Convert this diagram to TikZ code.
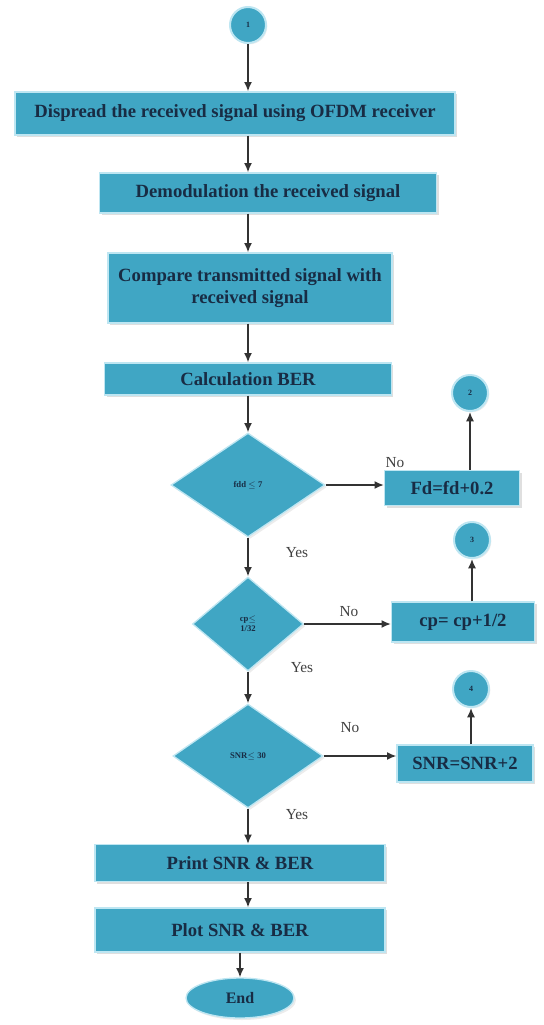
\documentclass[tikz,border=0pt]{standalone}
\usepackage{amsmath}
\usepackage{amssymb}
\usepackage{fontspec}
\setmainfont{Liberation Serif}
\usetikzlibrary{shapes.geometric,shadows,arrows.meta}

\definecolor{flowfill}{RGB}{64,166,196}
\definecolor{flowedge}{RGB}{190,230,242}
\definecolor{flowtext}{RGB}{24,44,68}

\tikzset{
	procbox/.style={rectangle, fill=flowfill, draw=flowedge, line width=1pt, text=flowtext, align=center, inner sep=0pt,
		font=\bfseries\fontsize{14}{17}\selectfont,
		drop shadow={shadow xshift=1.5pt, shadow yshift=-1.5pt, fill=black!25}},
	decbox/.style={diamond, fill=flowfill, draw=flowedge, line width=1pt, text=flowtext, align=center, inner sep=0pt,
		font=\bfseries\fontsize{6.5}{7.5}\selectfont,
		drop shadow={shadow xshift=1.5pt, shadow yshift=-1.5pt, fill=black!15}},
	connbox/.style={circle, fill=flowfill, draw=flowedge, line width=1.5pt, text=flowtext, inner sep=0pt, minimum size=27pt,
		font=\bfseries\fontsize{6}{7}\selectfont,
		drop shadow={shadow xshift=1pt, shadow yshift=-1pt, fill=black!15}},
	endbox/.style={ellipse, fill=flowfill, draw=flowedge, line width=1pt, text=flowtext, inner sep=0pt,
		font=\bfseries\fontsize{12}{14}\selectfont,
		drop shadow={shadow xshift=1.5pt, shadow yshift=-1.5pt, fill=black!15}},
	arr/.style={-{Latex[length=7pt,width=6pt]}, line width=1.1pt, draw=black!80},
	lbl/.style={font=\fontsize{11.5}{13}\selectfont, text=black!75, inner sep=0.75pt}
}

\begin{document}
\begin{tikzpicture}[x=0.75pt,y=0.75pt,yscale=-1,xscale=1]
	\useasboundingbox (0,0) rectangle (543,1025);
	
	%Connectors [id:c1..c4]
	\node [connbox] (c1) at (248,25) {1};
	\node [connbox] (c2) at (470,393) {2};
	\node [connbox] (c3) at (472,540) {3};
	\node [connbox] (c4) at (471,689) {4};
	
	%Process boxes
	\node [procbox, minimum width=330pt, minimum height=32.25pt] (b1) at (235,113.5) {Dispread the received signal using OFDM receiver};
	\node [procbox, minimum width=252.75pt, minimum height=30pt] (b2) at (268,193) {Demodulation the received signal};
	\node [procbox, minimum width=213pt, minimum height=52.5pt] (b3) at (250,288) {Compare transmitted signal with\\received signal};
	\node [procbox, minimum width=215pt, minimum height=24pt] (b4) at (248,379) {Calculation BER};
	
	%Decisions and side boxes
	\node [decbox, minimum width=115.5pt, minimum height=78pt] (d1) at (248,485) {fdd $\leq$ 7};
	\node [procbox, minimum width=101.25pt, minimum height=26.25pt] (r1) at (452,488) {Fd=fd+0.2};
	\node [decbox, minimum width=83.25pt, minimum height=70.5pt] (d2) at (248,624) {cp$\leq$\\1/32};
	\node [procbox, minimum width=107.25pt, minimum height=30pt] (r2) at (463,622) {cp= cp+1/2};
	\node [decbox, minimum width=112.5pt, minimum height=78pt] (d3) at (248,756) {SNR$\leq$ 30};
	\node [procbox, minimum width=102pt, minimum height=27.75pt] (r3) at (465,763.5) {SNR=SNR+2};
	
	%Output boxes
	\node [procbox, minimum width=217.5pt, minimum height=27.75pt] (b5) at (240,863) {Print SNR \& BER};
	\node [procbox, minimum width=217.5pt, minimum height=33pt] (b6) at (240,930) {Plot SNR \& BER};
	\node [endbox, minimum width=81pt, minimum height=30pt] (e) at (240,998) {End};
	
	%Straight Lines
	\draw [arr] (c1) -- (b1.north -| c1);
	\draw [arr] (b1.south -| c1) -- (b2.north -| c1);
	\draw [arr] (b2.south -| c1) -- (b3.north -| c1);
	\draw [arr] (b3.south -| c1) -- (b4.north -| c1);
	\draw [arr] (b4.south -| c1) -- (d1.north);
	\draw [arr] (d1.east) -- (r1.west |- d1.east);
	\draw [arr] (c2 |- r1.north) -- (c2);
	\draw [arr] (d1.south) -- (d2.north);
	\draw [arr] (d2.east) -- (r2.west |- d2.east);
	\draw [arr] (c3 |- r2.north) -- (c3);
	\draw [arr] (d2.south) -- (d3.north);
	\draw [arr] (d3.east) -- (r3.west |- d3.east);
	\draw [arr] (c4 |- r3.north) -- (c4);
	\draw [arr] (d3.south) -- (b5.north -| d3.south);
	\draw [arr] (b5.south -| d3.south) -- (b6.north -| d3.south);
	\draw [arr] (b6.south -| e) -- (e);
	
	% Text Node
	\node [lbl] (no1) at (395,463) {No};
	% Text Node
	\node [lbl] (yes1) at (297,553) {Yes};
	% Text Node
	\node [lbl] (no2) at (349,612) {No};
	% Text Node
	\node [lbl] (yes2) at (302,668) {Yes};
	% Text Node
	\node [lbl] (no3) at (350,728) {No};
	% Text Node
	\node [lbl] (yes3) at (297,815) {Yes};
	
\end{tikzpicture}
\end{document}
